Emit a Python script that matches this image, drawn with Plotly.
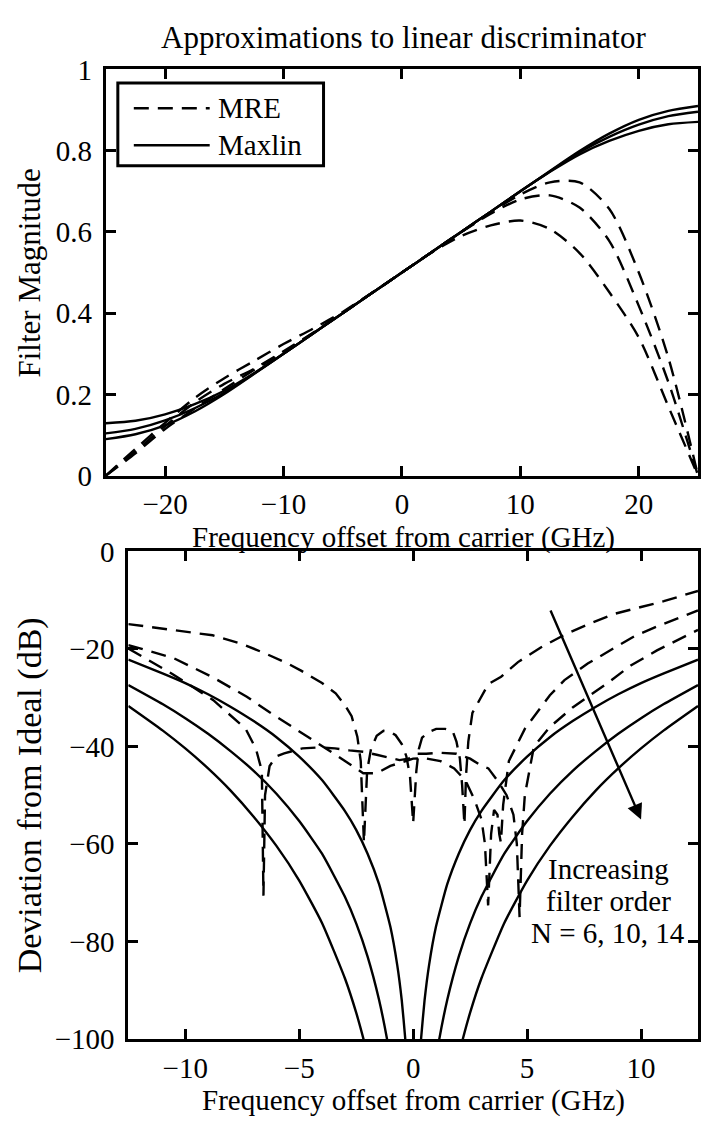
import plotly.graph_objects as go

W, H = 701, 1133
FONT = "Liberation Serif"
FS = 29
FS_TITLE = 31

# ---------------- upper panel: filter magnitude ----------------
f_top = [-25, -22.5, -20, -17.5, -15, -12.5, -10, -7.5, -5, -2.5, 0,
         2.5, 5, 7.5, 10, 12.5, 15, 17.5, 20, 22.5, 25]

maxlin_n6 = [0.129, 0.135, 0.151, 0.176, 0.209, 0.252, 0.300, 0.350, 0.400, 0.450, 0.500,
             0.550, 0.600, 0.650, 0.700, 0.748, 0.791, 0.824, 0.849, 0.865, 0.871]
maxlin_n10 = [0.104, 0.115, 0.136, 0.166, 0.204, 0.251, 0.300, 0.350, 0.400, 0.450, 0.500,
              0.550, 0.600, 0.650, 0.700, 0.749, 0.796, 0.834, 0.864, 0.885, 0.896]
maxlin_n14 = [0.090, 0.102, 0.124, 0.158, 0.201, 0.250, 0.300, 0.350, 0.400, 0.450, 0.500,
              0.550, 0.600, 0.650, 0.700, 0.750, 0.799, 0.842, 0.876, 0.898, 0.910]

mre_n6 = [0.000, 0.066, 0.130, 0.191, 0.240, 0.282, 0.324, 0.362, 0.403, 0.451, 0.500,
          0.549, 0.590, 0.616, 0.628, 0.607, 0.548, 0.452, 0.340, 0.170, 0.000]
mre_n10 = [0.000, 0.060, 0.122, 0.180, 0.226, 0.263, 0.306, 0.352, 0.401, 0.450, 0.500,
           0.550, 0.599, 0.645, 0.680, 0.690, 0.660, 0.578, 0.418, 0.230, 0.000]
mre_n14 = [0.000, 0.055, 0.115, 0.165, 0.213, 0.260, 0.303, 0.351, 0.400, 0.450, 0.500,
           0.550, 0.600, 0.648, 0.692, 0.722, 0.722, 0.657, 0.500, 0.290, 0.000]

# ---------------- lower panel: deviation from ideal (dB) ----------------
f_mre_dev_n6 = [-12.5, -11, -10, -8.8, -7.5, -6.5, -5.5, -4.9, -4, -3.4, -3, -2.7, -2.45, -2.3,
                -2.16, -2.02, -1.85, -1.6, -1.3, -1.0, -0.77, -0.5, -0.3, -0.14, 0.0, 0.14,
                0.25, 0.39, 0.7, 1.01, 1.4, 1.73, 1.9, 2.05, 2.15, 2.25, 2.32, 2.42, 2.6, 3.3,
                3.86, 4.6, 5.6, 6.64, 7.8, 8.83, 10, 11, 12.5]
mre_dev_n6 = [-14.9, -15.8, -16.4, -17.2, -19.0, -20.9, -23.0, -24.5, -27.0, -29.1, -31.5, -33.8,
              -38.0, -43.0, -59.7, -45.0, -40.5, -37.8, -36.8, -37.0, -37.7, -39.5, -42.0, -46.0,
              -55.7, -45.0, -40.5, -38.2, -37.0, -36.4, -36.4, -36.8, -39.0, -42.5, -48.0,
              -56.0, -46.0, -39.0, -33.1, -27.2, -25.7, -22.7, -19.7, -17.1, -14.7, -12.8,
              -11.4, -10.2, -8.1]

f_mre_dev_n10 = [-12.5, -10.5, -8.8, -7.3, -6.3, -5.2, -4.3, -3.4, -2.8, -2.19, -1.6, -1.0, -0.6,
                 0.0, 0.5, 1.2, 1.8, 2.3, 2.7, 3.0, 3.15, 3.29, 3.42, 3.55, 3.7, 3.78, 3.85,
                 3.95, 4.2, 4.9, 6.0, 6.64, 7.66, 8.83, 9.7, 10.7, 11.9, 12.5]
mre_dev_n10 = [-19.2, -21.9, -25.8, -29.8, -33.0, -36.4, -39.0, -41.7, -43.5, -45.5, -45.5, -44.0,
               -43.4, -42.5, -42.4, -43.0, -44.5, -47.0, -51.0, -55.0, -60.0, -72.6, -58.0,
               -53.0, -54.0, -58.0, -59.7, -52.0, -43.0, -36.4, -29.5, -26.4, -23.0, -19.7,
               -17.4, -15.4, -13.1, -12.1]

f_mre_dev_n14 = [-12.5, -10.55, -8.77, -7.35, -6.9, -6.64, -6.57, -6.5, -6.3, -6.0, -5.66, -4.86,
                 -4.15, -3.43, -2.8, -2.19, -1.6, -1.1, -0.6, -0.2, 0.12, 0.57, 1.19, 1.9, 2.5,
                 3.0, 3.3, 3.7, 4.1, 4.4, 4.55, 4.67, 4.78, 4.9, 5.3, 6.0, 7.0, 8.53, 9.55,
                 10.7, 12.5]
mre_dev_n14 = [-19.9, -25.2, -30.5, -36.4, -40.5, -45.0, -70.6, -50.0, -44.0, -42.0, -41.4, -40.4,
               -40.2, -40.4, -40.8, -41.1, -41.7, -42.2, -42.8, -42.5, -41.5, -41.5, -41.3,
               -41.5, -42.5, -44.0, -44.5, -47.0, -50.0, -54.0, -60.0, -75.0, -58.0, -50.0,
               -40.0, -36.0, -32.0, -27.0, -23.4, -20.3, -16.1]

f_maxlin_dev_n6 = [-12.5, -11, -10, -9, -8, -7, -6, -5, -4, -3, -2.5, -2, -1.5, -1, -0.7, -0.5,
                   -0.35, -0.3, 0.3, 0.35, 0.5, 0.7, 1, 1.5, 2, 2.5, 3, 4, 5, 6, 7, 8, 9, 10,
                   11, 12.5]
maxlin_dev_n6 = [-22.2, -25.0, -27.0, -29.3, -31.9, -34.8, -38.1, -42.1, -46.9, -53.2, -57.1,
                 -62.0, -68.2, -77.0, -84.8, -92.1, -99.8, -103.0, -103.0, -99.8, -92.1, -84.8,
                 -77.0, -68.2, -62.0, -57.1, -53.2, -46.9, -42.1, -38.1, -34.8, -31.9, -29.3,
                 -27.0, -25.0, -22.2]

f_maxlin_dev_n10 = [-12.5, -11, -10, -9, -8, -7, -6, -5, -4, -3, -2.5, -2, -1.5, -1.12, -1.0,
                    1.0, 1.12, 1.5, 2, 2.5, 3, 4, 5, 6, 7, 8, 9, 10, 11, 12.5]
maxlin_dev_n10 = [-27.4, -31.3, -34.2, -37.4, -41.0, -45.0, -49.7, -55.3, -62.0, -70.8, -76.3,
                  -83.1, -91.9, -100.7, -104.2, -104.2, -100.7, -91.9, -83.1, -76.3, -70.8,
                  -62.0, -55.3, -49.7, -45.0, -41.0, -37.4, -34.2, -31.3, -27.4]

f_maxlin_dev_n14 = [-12.5, -11, -10, -9, -8, -7, -6, -5, -4, -3, -2.5, -2.08, -1.9,
                    1.9, 2.08, 2.5, 3, 4, 5, 6, 7, 8, 9, 10, 11, 12.5]
maxlin_dev_n14 = [-31.7, -36.7, -40.4, -44.5, -49.1, -54.4, -60.4, -67.5, -76.2, -87.5, -94.6,
                  -101.8, -105.3, -105.3, -101.8, -94.6, -87.5, -76.2, -67.5, -60.4, -54.4,
                  -49.1, -44.5, -40.4, -36.7, -31.7]

top_ticks_x = [-20, -10, 0, 10, 20]
top_ticks_y = [0, 0.2, 0.4, 0.6, 0.8, 1]
bot_ticks_x = [-10, -5, 0, 5, 10]
bot_ticks_y = [-100, -80, -60, -40, -20, 0]


def px(x):
    return x / W


def py(y):
    return 1 - y / H


DASH = "15px,9px"
LW = 2.4

fig = go.Figure()

for ys in (mre_n6, mre_n10, mre_n14):
    fig.add_trace(go.Scatter(x=f_top, y=ys, mode="lines", xaxis="x", yaxis="y",
                             line=dict(color="black", width=LW, dash=DASH, shape="spline",
                                       smoothing=0.8),
                             showlegend=False, hoverinfo="skip"))
for ys in (maxlin_n6, maxlin_n10, maxlin_n14):
    fig.add_trace(go.Scatter(x=f_top, y=ys, mode="lines", xaxis="x", yaxis="y",
                             line=dict(color="black", width=LW, shape="spline", smoothing=0.8),
                             showlegend=False, hoverinfo="skip"))

for xs, ys in ((f_mre_dev_n6, mre_dev_n6), (f_mre_dev_n10, mre_dev_n10),
               (f_mre_dev_n14, mre_dev_n14)):
    fig.add_trace(go.Scatter(x=xs, y=ys, mode="lines", xaxis="x2", yaxis="y2",
                             line=dict(color="black", width=LW, dash=DASH),
                             showlegend=False, hoverinfo="skip"))
for xs, ys in ((f_maxlin_dev_n6, maxlin_dev_n6), (f_maxlin_dev_n10, maxlin_dev_n10),
               (f_maxlin_dev_n14, maxlin_dev_n14)):
    fig.add_trace(go.Scatter(x=xs, y=ys, mode="lines", xaxis="x2", yaxis="y2",
                             line=dict(color="black", width=LW, shape="spline", smoothing=0.5),
                             showlegend=False, hoverinfo="skip"))

axis_common = dict(showline=True, linewidth=3, linecolor="black", mirror="ticks",
                   ticks="inside", ticklen=10, tickwidth=2.5, tickcolor="black",
                   showgrid=False, zeroline=False,
                   tickfont=dict(family=FONT, size=FS, color="black"))

fig.update_layout(
    width=W, height=H,
    margin=dict(l=0, r=0, t=0, b=0),
    paper_bgcolor="white", plot_bgcolor="white",
    showlegend=False,
    xaxis=dict(domain=[px(106), px(699)], range=[-25, 25], tickvals=top_ticks_x,
               anchor="y", ticklabelstandoff=1, **axis_common),
    yaxis=dict(domain=[py(473), py(55)], range=[0, 1], tickvals=top_ticks_y,
               anchor="x", ticklabelstandoff=5, **axis_common),
    xaxis2=dict(domain=[px(128.5), px(699)], range=[-12.5, 12.5], tickvals=bot_ticks_x,
                anchor="y2", ticklabelstandoff=1, **axis_common),
    yaxis2=dict(domain=[py(1052.7), py(551)], range=[-100, 0], tickvals=bot_ticks_y,
                anchor="x2", ticklabelstandoff=5, **axis_common),
)

txt = dict(family=FONT, size=FS, color="black")
fig.add_annotation(xref="paper", yref="paper", showarrow=False,
                   font=dict(family=FONT, size=FS_TITLE, color="black"),
                   text="Approximations to linear discriminator", x=px(404), y=py(22),
                   xanchor="center", yanchor="middle")
ann = [
    dict(text="Frequency offset from carrier (GHz)", x=px(404), y=py(537), size=FS),
    dict(text="Frequency offset from carrier (GHz)", x=px(414), y=py(1116), size=FS),
    dict(text="Filter Magnitude", x=px(30), y=py(264), textangle=-90, size=31),
    dict(text="Deviation from Ideal (dB)", x=px(30), y=py(802), textangle=-90, size=34),
]
for a in ann:
    size = a.pop("size")
    fig.add_annotation(xref="paper", yref="paper", showarrow=False,
                       font=dict(family=FONT, size=size, color="black"),
                       xanchor="center", yanchor="middle", **a)

# note on the lower panel
for label, ypix in (("Increasing", 878), ("filter order", 911), ("N = 6, 10, 14", 944)):
    fig.add_annotation(xref="paper", yref="paper", x=px(609), y=py(ypix), text=label,
                       showarrow=False, font=txt, xanchor="center", yanchor="middle")

# arrow pointing towards higher filter order
fig.add_annotation(xref="x2", yref="y2", axref="x2", ayref="y2",
                   x=10, y=-55, ax=6, ay=-11.8, text="", showarrow=True,
                   arrowhead=2, arrowsize=1.3, arrowwidth=2.4, arrowcolor="black")

# legend box
fig.add_shape(type="rect", xref="paper", yref="paper",
              x0=px(118), x1=px(324), y0=py(154), y1=py(69),
              line=dict(color="black", width=3), fillcolor="white", layer="above")
fig.add_shape(type="line", xref="paper", yref="paper", x0=px(134), x1=px(210),
              y0=py(95), y1=py(95), line=dict(color="black", width=LW, dash="15px,9px"),
              layer="above")
fig.add_shape(type="line", xref="paper", yref="paper", x0=px(134), x1=px(210),
              y0=py(133), y1=py(133), line=dict(color="black", width=LW), layer="above")
for label, ypix in (("MRE", 95), ("Maxlin", 133)):
    fig.add_annotation(xref="paper", yref="paper", x=px(216), y=py(ypix), text=label,
                       showarrow=False, font=txt, xanchor="left", yanchor="middle")

fig.write_html("out.html")
